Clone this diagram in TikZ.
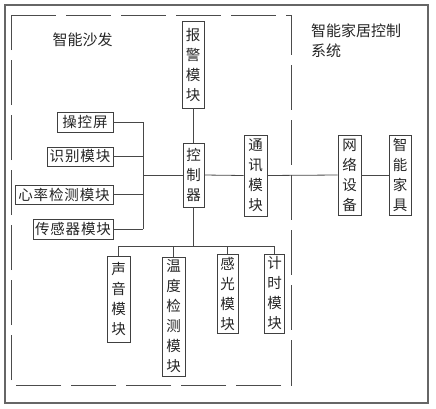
\documentclass[tikz,border=0pt]{standalone}
\usepackage{fontspec}
\newfontfamily\cjk{Noto Sans CJK SC}
\newfontfamily\cjkw[LetterSpace=6]{Noto Sans CJK SC}
\begin{document}
\begin{tikzpicture}[x=1pt,y=-1pt,
  line/.style={draw=black!72, line width=0.8pt},
  box/.style={draw=black!75, line width=0.8pt, inner sep=0pt, align=center,
    font=\cjk\fontsize{14.5}{20}\selectfont, text=black!85, fill=white},
  hbox/.style={box, font=\cjkw\fontsize{14.5}{20}\selectfont},
  lbl/.style={font=\cjk\fontsize{15}{20}\selectfont, text=black!85, inner sep=0pt, align=left}]
\useasboundingbox (0,0) rectangle (436,408);
% outer frame
\draw[draw=black!60, line width=1.1pt] (5,5) rectangle (428,403);
% dashed inner frame
\draw[draw=black!70, line width=0.9pt, dash pattern=on 45pt off 10pt]
  (11,15) -- (291,15) -- (291,385) -- (11,385) -- cycle;
% labels
\node[lbl] (sofa) at (82.5,40) {智能沙发};
\node[lbl, anchor=north west] (sys) at (311,24) {智能家居控制\\系统};
% boxes
\node[box, minimum width=22, minimum height=87] (alarm) at (193,64.5) {报\\警\\模\\块};
\node[box, minimum width=21, minimum height=64] (ctrl) at (193.5,175) {控\\制\\器};
\node[box, minimum width=23, minimum height=81] (comm) at (255.5,175.5) {通\\讯\\模\\块};
\node[box, minimum width=23, minimum height=80] (net) at (349.5,175) {网\\络\\设\\备};
\node[box, minimum width=22, minimum height=80] (home) at (400,175) {智\\能\\家\\具};
\node[hbox, minimum width=56, minimum height=20] (op) at (85,122) {操控屏};
\node[hbox, minimum width=66, minimum height=19] (idm) at (80,156.5) {识别模块};
\node[hbox, minimum width=98, minimum height=19] (hr) at (64,194.5) {心率检测模块};
\node[hbox, minimum width=80, minimum height=20] (sen) at (73,229) {传感器模块};
\node[box, minimum width=23, minimum height=86] (sound) at (118.5,299) {声\\音\\模\\块};
\node[box, minimum width=23, minimum height=119] (temp) at (173.5,316.5) {温\\度\\检\\测\\模\\块};
\node[box, minimum width=21, minimum height=79] (light) at (227.5,293.5) {感\\光\\模\\块};
\node[box, minimum width=20, minimum height=79] (timer) at (274.5,293.5) {计\\时\\模\\块};
% bus coordinates
\coordinate (busx) at (143,175);
\coordinate (busy) at (193.5,246);
% connectors
\draw[line] (alarm.south) -- (alarm.south |- ctrl.north);
\draw[line] (ctrl.west) -- (busx);
\draw[line] (op.east) -- (op.east -| busx);
\draw[line] (idm.east) -- (idm.east -| busx);
\draw[line] (hr.east) -- (hr.east -| busx);
\draw[line] (sen.east) -- (sen.east -| busx);
\draw[line] (op.east -| busx) -- (sen.east -| busx);
\draw[line] (ctrl.east) -- (comm.west);
\draw[line] (comm.east) -- (net.west);
\draw[line] (net.east) -- (home.west);
\draw[line] (ctrl.south) -- (busy);
\draw[line] (sound.north |- busy) -- (timer.north |- busy);
\draw[line] (sound.north) -- (sound.north |- busy);
\draw[line] (temp.north) -- (temp.north |- busy);
\draw[line] (light.north) -- (light.north |- busy);
\draw[line] (timer.north) -- (timer.north |- busy);
\end{tikzpicture}
\end{document}
